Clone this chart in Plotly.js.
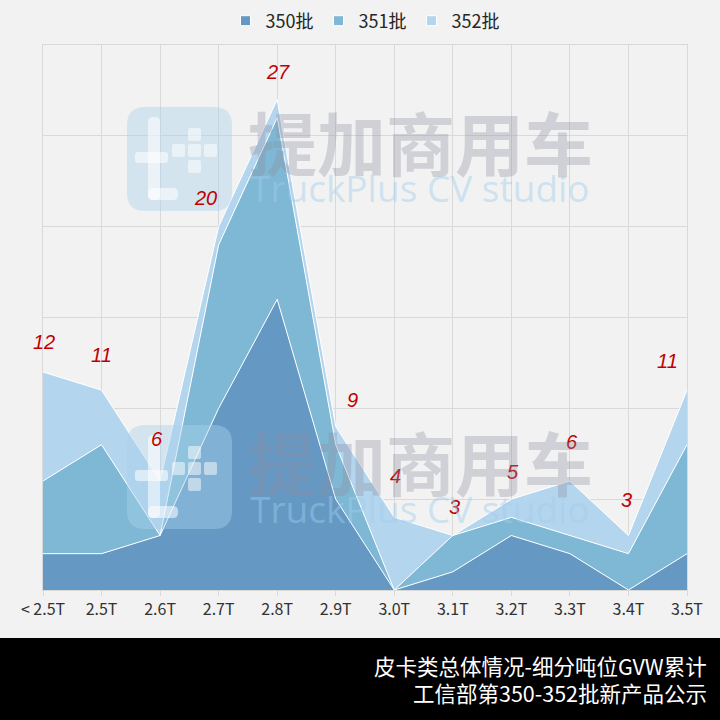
<!DOCTYPE html>
<html>
<head>
<meta charset="utf-8">
<script src="https://cdn.plot.ly/plotly-3.0.1.min.js"></script>
<style>
html,body{margin:0;padding:0;background:#f2f2f2;}
#chart{width:720px;height:720px;}
</style>
</head>
<body>
<div id="chart"></div>
<script>
// ---- data ----
const categories = ["< 2.5T","2.5T","2.6T","2.7T","2.8T","2.9T","3.0T","3.1T","3.2T","3.3T","3.4T","3.5T"];
const seriesNames = ["350批","351批","352批"];
const batch350 = [2, 2, 3, 10, 16, 5, 0, 1, 3, 2, 0, 2];
const batch351 = [4, 6, 0, 9, 10, 3, 0, 2, 1, 1, 2, 6];
const batch352 = [6, 3, 3, 1, 1, 1, 4, 0, 1, 3, 1, 3];
const titleLines = ["皮卡类总体情况-细分吨位GVW累计", "工信部第350-352批新产品公示"];

// ---- styles ----
const colors = ["#6599c3", "#7fb8d4", "#b4d5ee"];
// label offsets (pixels) relative to the stacked total
const labelDx = [1, 0, -3, -13, 1, 17, 1, 2, 2, 2, -2, -20];
const labelDy = [30, 35, 42, 29, 28, 27, 41, 29, 27, 39, 36, 29];

const W = 720, H = 720, ML = 43, MR = 33, MT = 45, MB = 130;
const PW = W - ML - MR, PH = H - MT - MB;
const px = x => (x - ML) / PW;
const py = y => (H - MB - y) / PH;

const seriesVals = [batch350, batch351, batch352];
const traces = seriesVals.map((v, i) => ({
  type: "scatter",
  mode: "lines",
  x: categories,
  y: v,
  name: seriesNames[i],
  stackgroup: "one",
  fillcolor: colors[i],
  line: {color: "#ffffff", width: 1},
  showlegend: false,
  hoverinfo: "skip"
}));
// legend entries (square markers)
seriesNames.forEach((n, i) => traces.push({
  type: "scatter", mode: "markers", x: [null], y: [null], name: n,
  marker: {symbol: "square", size: 10, color: colors[i], line: {color: "#ffffff", width: 1}},
  showlegend: true, hoverinfo: "skip"
}));

const totals = categories.map((c, i) => batch350[i] + batch351[i] + batch352[i]);
const annotations = categories.map((c, i) => ({
  x: c, y: totals[i], xref: "x", yref: "y",
  text: String(totals[i]), showarrow: false,
  xshift: labelDx[i], yshift: labelDy[i],
  font: {family: "Liberation Sans, Arial, sans-serif", size: 20, color: "#c00000", style: "italic"}
}));

// watermark texts
function watermark(offsetY) {
  return [
    {xref: "paper", yref: "paper", x: px(246), y: py(141 + offsetY), xanchor: "left", yanchor: "middle",
     text: "<b>提加商用车</b>", showarrow: false,
     font: {family: "Noto Sans CJK SC", size: 69, color: "rgba(140,140,160,0.33)"}},
    {xref: "paper", yref: "paper", x: px(248), y: py(188 + offsetY), xanchor: "left", yanchor: "middle",
     text: "TruckPlus CV studio", showarrow: false,
     font: {family: "Open Sans", size: 37, color: "rgba(160,205,235,0.45)"}}
  ];
}
annotations.push(...watermark(0), ...watermark(320));

// footer texts
annotations.push(
  {xref: "paper", yref: "paper", x: px(709), y: py(665), xanchor: "right", yanchor: "middle",
   text: titleLines[0], showarrow: false, font: {family: "Noto Sans CJK SC", size: 21.5, color: "#ffffff"}},
  {xref: "paper", yref: "paper", x: px(709), y: py(692), xanchor: "right", yanchor: "middle",
   text: titleLines[1], showarrow: false, font: {family: "Noto Sans CJK SC", size: 21.5, color: "#ffffff"}}
);

function rrect(x0, y0, x1, y1, r) {
  const X0 = px(x0), X1 = px(x1), Y0 = py(y0), Y1 = py(y1);
  const rx = r / PW, ry = r / PH;
  return `M ${X0+rx} ${Y0} L ${X1-rx} ${Y0} Q ${X1} ${Y0} ${X1} ${Y0-ry} L ${X1} ${Y1+ry} Q ${X1} ${Y1} ${X1-rx} ${Y1} L ${X0+rx} ${Y1} Q ${X0} ${Y1} ${X0} ${Y1+ry} L ${X0} ${Y0-ry} Q ${X0} ${Y0} ${X0+rx} ${Y0} Z`;
}

function logoShapes(offsetY) {
  const s = [];
  s.push({type: "path", xref: "paper", yref: "paper", layer: "above",
    path: rrect(127, 107 + offsetY, 232, 211 + offsetY, 18),
    fillcolor: "rgba(170,210,235,0.42)", line: {width: 0}});
  s.push({type: "path", xref: "paper", yref: "paper", layer: "above",
    path: rrect(148, 117 + offsetY, 160, 200 + offsetY, 5),
    fillcolor: "rgba(255,255,255,0.55)", line: {width: 0}});
  s.push({type: "path", xref: "paper", yref: "paper", layer: "above",
    path: rrect(148, 188 + offsetY, 178, 200 + offsetY, 5),
    fillcolor: "rgba(255,255,255,0.55)", line: {width: 0}});
  s.push({type: "path", xref: "paper", yref: "paper", layer: "above",
    path: rrect(135, 152 + offsetY, 168, 163 + offsetY, 3),
    fillcolor: "rgba(255,255,255,0.55)", line: {width: 0}});
  const sq = [[188,128],[172,144],[188,144],[204,144],[188,160]];
  sq.forEach(([x, y]) => s.push({type: "path", xref: "paper", yref: "paper", layer: "above",
    path: rrect(x, y + offsetY, x + 13, y + 13 + offsetY, 2),
    fillcolor: "rgba(255,255,255,0.5)", line: {width: 0}}));
  return s;
}

const shapes = [
  ...logoShapes(0), ...logoShapes(318),
  {type: "rect", xref: "paper", yref: "paper", layer: "above",
   x0: px(0), x1: px(720), y0: py(638), y1: py(720),
   fillcolor: "#000000", line: {width: 0}}
];

const layout = {
  width: W, height: H,
  margin: {l: ML, r: MR, t: MT, b: MB, pad: 0, autoexpand: false},
  paper_bgcolor: "#f2f2f2",
  plot_bgcolor: "#f2f2f2",
  font: {family: "Noto Sans CJK SC, sans-serif", color: "#333333"},
  showlegend: true,
  legend: {orientation: "h", x: 0.5, xanchor: "center", y: py(21), yanchor: "middle",
           font: {size: 18, color: "#262626"}, itemwidth: 30, traceorder: "normal",
           bgcolor: "rgba(0,0,0,0)", tracegroupgap: 0},
  xaxis: {
    type: "category", range: [0, 11], fixedrange: true, automargin: false,
    showgrid: true, gridcolor: "#d9d9d9", gridwidth: 1,
    showline: true, mirror: true, linecolor: "#d9d9d9",
    ticks: "outside", ticklen: 5, tickcolor: "#d9d9d9",
    tickfont: {size: 16, color: "#333333"}, zeroline: false
  },
  yaxis: {
    range: [0, 30], dtick: 5, showticklabels: false, fixedrange: true, automargin: false,
    showgrid: true, gridcolor: "#d9d9d9", gridwidth: 1, zeroline: false,
    showline: true, mirror: true, linecolor: "#d9d9d9"
  },
  annotations: annotations,
  shapes: shapes
};

Plotly.newPlot("chart", traces, layout, {displayModeBar: false, staticPlot: true});
</script>
</body>
</html>
